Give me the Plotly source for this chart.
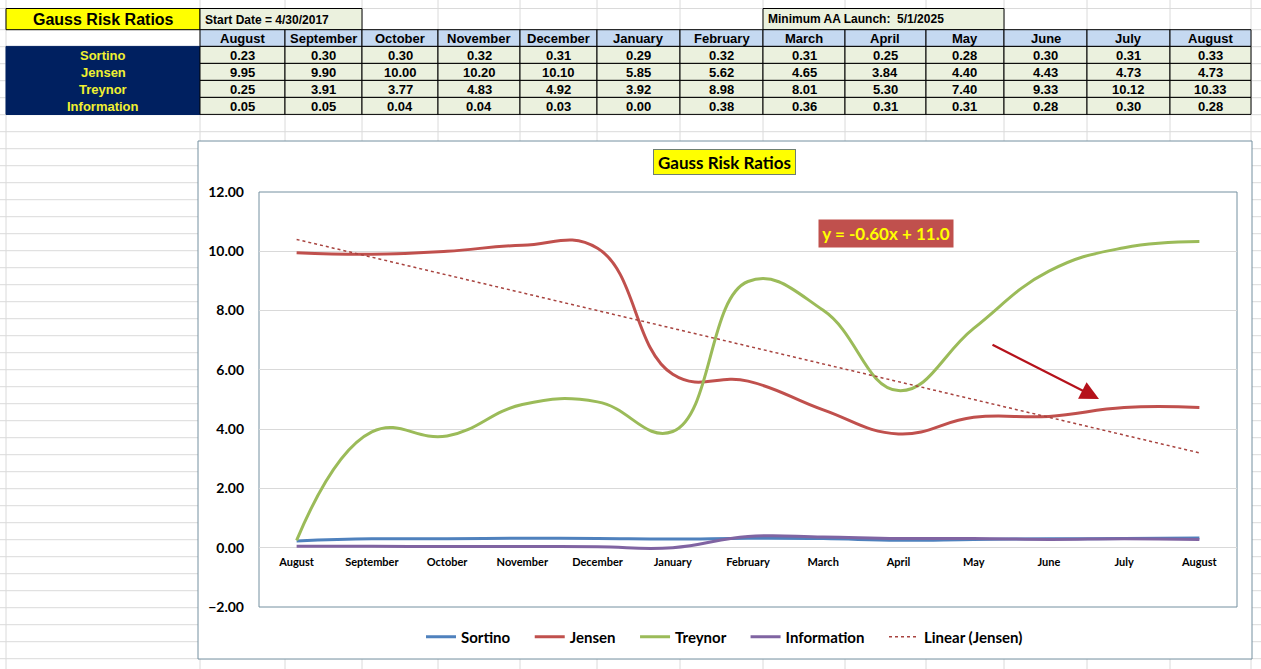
import numpy as np
import plotly.graph_objects as go

W, H = 1261, 669

# ---------------- data ----------------
months = ["August", "September", "October", "November", "December", "January",
          "February", "March", "April", "May", "June", "July", "August"]
sortino = [0.23, 0.30, 0.30, 0.32, 0.31, 0.29, 0.32, 0.31, 0.25, 0.28, 0.30, 0.31, 0.33]
jensen = [9.95, 9.90, 10.00, 10.20, 10.10, 5.85, 5.62, 4.65, 3.84, 4.40, 4.43, 4.73, 4.73]
treynor = [0.25, 3.91, 3.77, 4.83, 4.92, 3.92, 8.98, 8.01, 5.30, 7.40, 9.33, 10.12, 10.33]
information = [0.05, 0.05, 0.04, 0.04, 0.03, 0.00, 0.38, 0.36, 0.31, 0.31, 0.28, 0.30, 0.28]
series_names = ["Sortino", "Jensen", "Treynor", "Information"]
series_colors = ["#4F81BD", "#C0504D", "#9BBB59", "#8064A2"]
trend_name = "Linear (Jensen)"
table_title = "Gauss Risk Ratios"
start_text = "Start Date = 4/30/2017"
launch_text = "Minimum AA Launch:  5/1/2025"
# Excel linear trendline on Jensen, as labelled in the chart
trend_slope = -0.60
trend_intercept = 11.0

xi = np.arange(1, len(jensen) + 1)
trend = trend_slope * xi + trend_intercept
eq_text = f"y = {trend_slope:.2f}x + {trend_intercept:.1f}"

def px(x):
    return x / W

def py(y):
    return 1 - y / H

shapes = []
annotations = []

# ---------------- sheet gridlines ----------------
grid_col = "#DADADA"
col_edges = [200, 285, 362, 438, 520, 597, 680, 763, 845, 926, 1004, 1087, 1170, 1251]
for x in [6] + col_edges:
    shapes.append(dict(type="line", xref="paper", yref="paper", x0=px(x), x1=px(x),
                       y0=0, y1=1, line=dict(color=grid_col, width=1), layer="below"))
row_lines = [8.5] + [29.7 + 17 * k for k in range(40) if 29.7 + 17 * k < H]
for y in row_lines:
    shapes.append(dict(type="line", xref="paper", yref="paper", x0=0, x1=1,
                       y0=py(y), y1=py(y), line=dict(color=grid_col, width=1), layer="below"))

def rect(x0, y0, x1, y1, fill, line_color="black", lw=1):
    shapes.append(dict(type="rect", xref="paper", yref="paper",
                       x0=px(x0), x1=px(x1), y0=py(y1), y1=py(y0),
                       fillcolor=fill, line=dict(color=line_color, width=lw), layer="below"))

def text(x, y, s, size=13, color="black", family="Liberation Sans", bold=True, xanchor="center"):
    annotations.append(dict(xref="paper", yref="paper", x=px(x), y=py(y), text=(f"<b>{s}</b>" if bold else s),
                            showarrow=False, xanchor=xanchor, yanchor="middle",
                            font=dict(family=family, size=size, color=color)))

# ---------------- top table ----------------
row_h = 17
rect(6, 8.5, 200, 29.7, "#FFFF00")
text(103, 19.5, table_title, size=16)
rect(200, 8.5, 362, 29.7, "#EBF1DE")
text(203, 20, start_text, size=12, xanchor="left")
rect(763, 8.5, 1004, 29.7, "#EBF1DE")
text(766, 19.5, launch_text, size=12, xanchor="left")

for i, m in enumerate(months):
    x0, x1 = col_edges[i], col_edges[i + 1]
    rect(x0, 29.7, x1, 46.4, "#C5D9F1")
    text((x0 + x1) / 2, 38.5, m, size=13)

rect(6, 46.4, 200, 114.5, "#002060", line_color="#002060")
all_series = [sortino, jensen, treynor, information]
for r, (name, vals) in enumerate(zip(series_names, all_series)):
    yc = 46.4 + r * row_h + row_h / 2 + 0.3
    text(103, yc, name, size=13, color="#F0F030")
    for i, v in enumerate(vals):
        x0, x1 = col_edges[i], col_edges[i + 1]
        rect(x0, 46.4 + r * row_h, x1, 46.4 + (r + 1) * row_h, "#EBF1DE")
        text((x0 + x1) / 2, yc, f"{v:.2f}", size=13)

# ---------------- chart frame ----------------
rect(198, 141, 1252, 659, "white", line_color="#7590A0", lw=1)
PL, PR, PT, PB = 259, 1237, 192, 607
rect(PL, PT, PR, PB, "rgba(0,0,0,0)", line_color="#7590A0", lw=1)

# chart title
annotations.append(dict(xref="paper", yref="paper", x=px(724.5), y=py(161.5), text="<b>Gauss Risk Ratios</b>",
                        showarrow=False, xanchor="center", yanchor="middle",
                        bgcolor="#FFFF00", bordercolor="#6F7F70", borderwidth=1, borderpad=0,
                        width=141, height=24,
                        font=dict(family="Lato", size=17, color="black")))
# equation label
annotations.append(dict(xref="paper", yref="paper", x=px(886), y=py(233.5), text=f"<b>{eq_text}</b>",
                        showarrow=False, xanchor="center", yanchor="middle",
                        bgcolor="#C0504D", borderpad=0, width=134, height=27,
                        font=dict(family="Lato", size=17, color="#FFFF00")))
# arrow
annotations.append(dict(xref="paper", yref="paper", x=px(1099), y=py(399), text="",
                        showarrow=True, axref="pixel", ayref="pixel", ax=-108, ay=-55,
                        arrowhead=2, arrowsize=1.7, arrowwidth=2.2, arrowcolor="#B5121B"))

# ---------------- traces ----------------
pad = "\u00a0" * 4
fig = go.Figure()
xs = list(range(len(months)))
for name, vals, col in zip(series_names, all_series, series_colors):
    fig.add_trace(go.Scatter(x=xs, y=vals, name=name + pad, mode="lines",
                             line=dict(color=col, width=3, shape="spline", smoothing=1.25)))
fig.add_trace(go.Scatter(x=xs, y=trend, name=trend_name, mode="lines",
                         line=dict(color="#A8433F", width=1.5, dash="dot")))

y0_px = PT + (12 - 0) / 14 * (PB - PT)

fig.update_layout(
    width=W, height=H,
    margin=dict(l=0, r=0, t=0, b=0, autoexpand=False),
    paper_bgcolor="white",
    plot_bgcolor="rgba(0,0,0,0)",
    shapes=shapes,
    annotations=annotations,
    showlegend=True,
    legend=dict(orientation="h", x=px(421), xanchor="left", y=py(637), yanchor="middle",
                font=dict(family="Lato", size=15, color="black", weight="bold"),
                bgcolor="rgba(0,0,0,0)", itemwidth=30, tracegroupgap=0),
    xaxis=dict(domain=[px(PL), px(PR)], range=[-0.5, 12.5], anchor="free", position=py(y0_px),
               tickmode="array", tickvals=xs, ticktext=[f"<b>{m}</b>" for m in months],
               tickfont=dict(family="Lato", size=11, color="black"), automargin=False,
               showgrid=False, showline=False, zeroline=False, ticks="", ticklabelstandoff=6),
    yaxis=dict(domain=[py(PB), py(PT)], range=[-2, 12], dtick=2, tick0=0, tickformat=".2f",
               tickfont=dict(family="Lato", size=14, color="black", weight="bold"), automargin=False,
               showgrid=True, gridcolor="#D9D9D9", gridwidth=1, zeroline=False,
               showline=False, ticks="", ticklabelstandoff=14),
)

fig.write_html("out.html")
